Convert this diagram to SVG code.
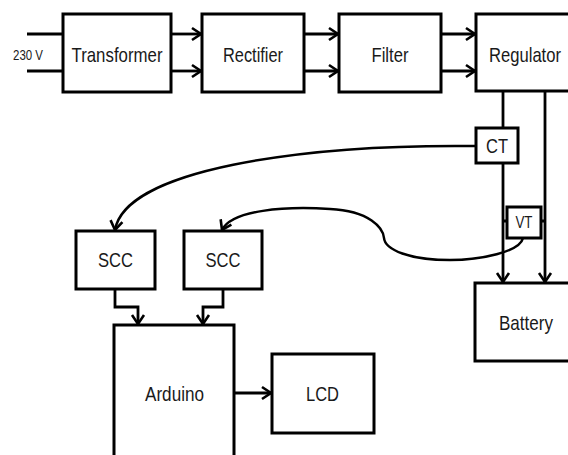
<svg xmlns="http://www.w3.org/2000/svg" width="568" height="455" viewBox="0 0 568 455">
<style>
.box{fill:#fff;stroke:#000;stroke-width:3}
.ln{fill:none;stroke:#000;stroke-width:2.8}
.cv{fill:none;stroke:#000;stroke-width:2.5}
text{font-family:"Liberation Sans Narrow","Liberation Sans",Arial,sans-serif;font-size:21px;fill:#1a1a1a;text-anchor:middle}
.sm{font-size:14.5px}
.vt{font-size:17px}
</style>
<defs>
<marker id="ah" markerUnits="userSpaceOnUse" markerWidth="16" markerHeight="16" refX="12" refY="8" orient="auto" viewBox="0 0 16 16">
<path d="M3,2 L12,8 L3,14" fill="none" stroke="#000" stroke-width="2.6"/>
</marker>
</defs>
<g id="connectors">
<path class="ln" d="M27,34 H63 M27,71 H63"/>
<path class="ln" d="M171,34 H201" marker-end="url(#ah)"/>
<path class="ln" d="M171,71 H201" marker-end="url(#ah)"/>
<path class="ln" d="M304,34 H338" marker-end="url(#ah)"/>
<path class="ln" d="M304,71 H338" marker-end="url(#ah)"/>
<path class="ln" d="M441,34 H475" marker-end="url(#ah)"/>
<path class="ln" d="M441,71 H475" marker-end="url(#ah)"/>
<path class="ln" d="M503,91 V128"/>
<path class="ln" d="M503,163 V282" marker-end="url(#ah)"/>
<path class="ln" d="M545,91 V282" marker-end="url(#ah)"/>
<path class="ln" d="M503,221 H507 M541,221 H545"/>
<path class="cv" d="M476,146 C300,144 125,170 115,230" marker-end="url(#ah)"/>
<path class="cv" d="M523,238 C520,252 480,260 450,260 C410,260 385,250 384,238 C383,228 370,211 330,209 C285,206 232,210 222,230" marker-end="url(#ah)"/>
<path class="ln" d="M115,289 V307 H138 V324" marker-end="url(#ah)"/>
<path class="ln" d="M223,289 V307 H203 V324" marker-end="url(#ah)"/>
<path class="ln" d="M234,393 H271" marker-end="url(#ah)"/>
</g>
<g id="input"><text class="sm" x="28" y="60" textLength="30" lengthAdjust="spacingAndGlyphs">230 V</text></g>
<g id="transformer"><rect class="box" x="63" y="14" width="108" height="78"/><text x="117" y="62" textLength="91" lengthAdjust="spacingAndGlyphs">Transformer</text></g>
<g id="rectifier"><rect class="box" x="202" y="14" width="102" height="78"/><text x="253" y="62" textLength="60" lengthAdjust="spacingAndGlyphs">Rectifier</text></g>
<g id="filter"><rect class="box" x="339" y="14" width="102" height="78"/><text x="390" y="62" textLength="37" lengthAdjust="spacingAndGlyphs">Filter</text></g>
<g id="regulator"><rect class="box" x="476" y="14" width="110" height="77"/><text x="525" y="62" textLength="72" lengthAdjust="spacingAndGlyphs">Regulator</text></g>
<g id="ct"><rect class="box" x="476" y="128" width="42" height="35"/><text x="497" y="153" textLength="22" lengthAdjust="spacingAndGlyphs">CT</text></g>
<g id="vt"><rect class="box" x="507" y="207" width="34" height="31"/><text class="vt" x="524" y="228" textLength="17" lengthAdjust="spacingAndGlyphs">VT</text></g>
<g id="scc1"><rect class="box" x="76" y="231" width="79" height="58"/><text x="115.5" y="267" textLength="35" lengthAdjust="spacingAndGlyphs">SCC</text></g>
<g id="scc2"><rect class="box" x="184" y="231" width="78" height="58"/><text x="223" y="267" textLength="35" lengthAdjust="spacingAndGlyphs">SCC</text></g>
<g id="battery"><rect class="box" x="475" y="283" width="110" height="78"/><text x="526" y="330" textLength="54" lengthAdjust="spacingAndGlyphs">Battery</text></g>
<g id="arduino"><rect class="box" x="114" y="325" width="120" height="140"/><text x="174.5" y="401" textLength="59" lengthAdjust="spacingAndGlyphs">Arduino</text></g>
<g id="lcd"><rect class="box" x="272" y="354" width="102" height="79"/><text x="322.5" y="401" textLength="33" lengthAdjust="spacingAndGlyphs">LCD</text></g>
</svg>
